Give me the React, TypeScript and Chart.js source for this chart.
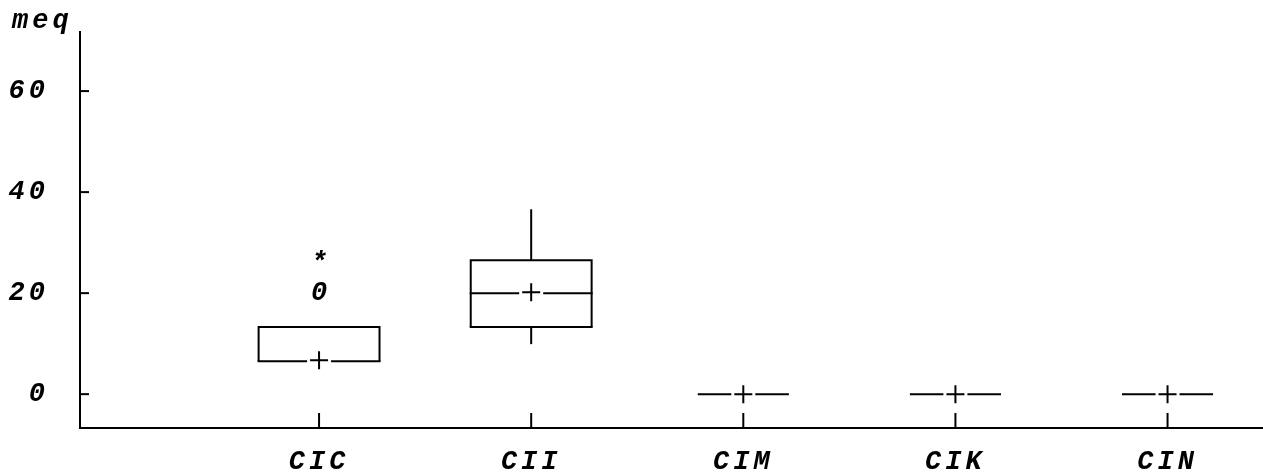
import React, { useEffect, useRef } from "react";
import { Chart, registerables } from "chart.js";

Chart.register(...registerables);

// ---- data ----
const categories = ["CIC", "CII", "CIM", "CIK", "CIN"];
const q1Values = [6.5, 13.3, 0, 0, 0];
const medianValues = [6.5, 20.0, 0, 0, 0];
const q3Values = [13.3, 26.5, 0, 0, 0];
const whiskerLowValues = [6.5, 9.9, 0, 0, 0];
const whiskerHighValues = [13.3, 36.6, 0, 0, 0];
const meanValues = [6.7, 20.2, 0, 0, 0];
const outlierCategories = ["CIC", "CIC"];
const outlierValues = [20.0, 26.0];
const outlierSymbols = ["0", "*"];
const yTickValues = [0, 20, 40, 60];
const yAxisTitle = "meq";

// ---- styles ----
const FONT_FAMILY = "'Liberation Mono', 'Courier New', monospace";
const FONT_SIZE = 27;
const FONT_WEIGHT = "bold";
const LETTER_SPACING = "4px";
const BOX_WIDTH_UNITS = 0.57;
const FLAT_WIDTH_UNITS = 0.42;
const CROSS_GAP = 12;

const setSpacing = (chart: any) => {
  try {
    (chart.ctx as any).letterSpacing = LETTER_SPACING;
  } catch (e) {}
};

const boxPlotPlugin = {
  id: "boxPlot",
  beforeLayout(chart: any) {
    setSpacing(chart);
  },
  beforeDraw(chart: any) {
    setSpacing(chart);
  },
  beforeDatasetsDraw(chart: any) {
    const { ctx, chartArea } = chart;
    const x = chart.scales.x;
    const y = chart.scales.y;
    const unit = x.getPixelForValue(1) - x.getPixelForValue(0);
    ctx.save();
    ctx.strokeStyle = "#000";
    ctx.lineWidth = 2;
    ctx.lineCap = "butt";

    const hLine = (x0: number, x1: number, yy: number) => {
      ctx.beginPath();
      ctx.moveTo(x0, yy);
      ctx.lineTo(x1, yy);
      ctx.stroke();
    };

    categories.forEach((_, i) => {
      const cx = x.getPixelForValue(i + 1);
      const flat = q3Values[i] <= q1Values[i];
      const half = ((flat ? FLAT_WIDTH_UNITS : BOX_WIDTH_UNITS) * unit) / 2;
      const yq1 = y.getPixelForValue(q1Values[i]);
      const yq3 = y.getPixelForValue(q3Values[i]);
      const ymed = y.getPixelForValue(medianValues[i]);
      const ymean = y.getPixelForValue(meanValues[i]);
      if (!flat) {
        ctx.beginPath();
        ctx.moveTo(cx - half, yq1);
        ctx.lineTo(cx - half, yq3);
        ctx.lineTo(cx + half, yq3);
        ctx.lineTo(cx + half, yq1);
        ctx.stroke();
        if (Math.abs(yq1 - ymean) > 3) hLine(cx - half - 1, cx + half + 1, yq1);
      }
      if (Math.abs(ymed - ymean) < 4) {
        hLine(cx - half - 1, cx - CROSS_GAP, ymed);
        hLine(cx + CROSS_GAP, cx + half + 1, ymed);
      } else {
        hLine(cx - half - 1, cx + half + 1, ymed);
      }
      if (whiskerHighValues[i] > q3Values[i]) {
        ctx.beginPath();
        ctx.moveTo(cx, yq3);
        ctx.lineTo(cx, y.getPixelForValue(whiskerHighValues[i]));
        ctx.stroke();
      }
      if (whiskerLowValues[i] < q1Values[i]) {
        ctx.beginPath();
        ctx.moveTo(cx, yq1);
        ctx.lineTo(cx, y.getPixelForValue(whiskerLowValues[i]));
        ctx.stroke();
      }
    });

    // axis tick marks (inside the plot area)
    yTickValues.forEach((v) => {
      const py = y.getPixelForValue(v);
      hLine(chartArea.left, chartArea.left + 9, py);
    });
    categories.forEach((_, i) => {
      const px = x.getPixelForValue(i + 1);
      ctx.beginPath();
      ctx.moveTo(px, chartArea.bottom);
      ctx.lineTo(px, chartArea.bottom - 15);
      ctx.stroke();
    });

    // outlier symbols
    ctx.fillStyle = "#000";
    ctx.font = `italic ${FONT_WEIGHT} ${FONT_SIZE}px ${FONT_FAMILY}`;
    ctx.textAlign = "center";
    ctx.textBaseline = "middle";
    outlierValues.forEach((v, k) => {
      const ci = categories.indexOf(outlierCategories[k]);
      const px = x.getPixelForValue(ci + 1);
      const py = y.getPixelForValue(v);
      ctx.fillText(outlierSymbols[k], px + 2, py);
    });

    // y axis title
    ctx.textAlign = "left";
    ctx.fillText(yAxisTitle, 12, 21);
    ctx.restore();
  },
};

export default function App() {
  const canvasRef = useRef<HTMLCanvasElement | null>(null);

  useEffect(() => {
    if (!canvasRef.current) return;
    const font = { family: FONT_FAMILY, size: FONT_SIZE, style: "italic" as const, weight: FONT_WEIGHT as any };
    const chart = new Chart(canvasRef.current, {
      type: "scatter",
      data: {
        datasets: [
          {
            label: "mean",
            data: meanValues.map((m, i) => ({ x: i + 1, y: m })),
            pointStyle: "cross",
            pointRadius: 9,
            pointHoverRadius: 9,
            borderColor: "#000",
            backgroundColor: "#000",
            borderWidth: 2,
            showLine: false,
          },
        ],
      },
      options: {
        animation: false,
        responsive: true,
        maintainAspectRatio: false,
        events: [],
        layout: { autoPadding: false, padding: { top: 32, left: 0, right: 0, bottom: 0 } },
        plugins: {
          legend: { display: false },
          tooltip: { enabled: false },
          title: { display: false },
        },
        scales: {
          x: {
            type: "linear",
            min: -0.127,
            max: 5.45,
            grid: { display: false, drawTicks: false },
            border: { display: true, color: "#000", width: 2 },
            afterBuildTicks: (scale: any) => {
              scale.ticks = categories.map((_, i) => ({ value: i + 1 }));
            },
            afterFit: (scale: any) => {
              scale.height = 46;
              scale.paddingLeft = 0;
              scale.paddingRight = 0;
              scale.paddingTop = 0;
              scale.paddingBottom = 0;
            },
            ticks: {
              autoSkip: false,
              maxRotation: 0,
              padding: 18,
              color: "#000",
              font,
              callback: (_v: any, idx: number) => categories[idx],
            },
          },
          y: {
            type: "linear",
            min: -6.7,
            max: 71.7,
            grid: { display: false, drawTicks: false },
            border: { display: true, color: "#000", width: 2 },
            afterBuildTicks: (scale: any) => {
              scale.ticks = yTickValues.map((v) => ({ value: v }));
            },
            afterFit: (scale: any) => {
              scale.width = 80;
              scale.paddingLeft = 0;
              scale.paddingRight = 0;
              scale.paddingTop = 0;
              scale.paddingBottom = 0;
            },
            ticks: {
              padding: 31,
              color: "#000",
              font,
              callback: (v: any) => String(v),
            },
          },
        },
      },
      plugins: [boxPlotPlugin],
    });
    return () => chart.destroy();
  }, []);

  return (
    <div
      style={{
        position: "absolute",
        left: 0,
        top: 0,
        width: 1263,
        height: 474,
        background: "#fff",
      }}
    >
      <canvas ref={canvasRef} />
    </div>
  );
}
